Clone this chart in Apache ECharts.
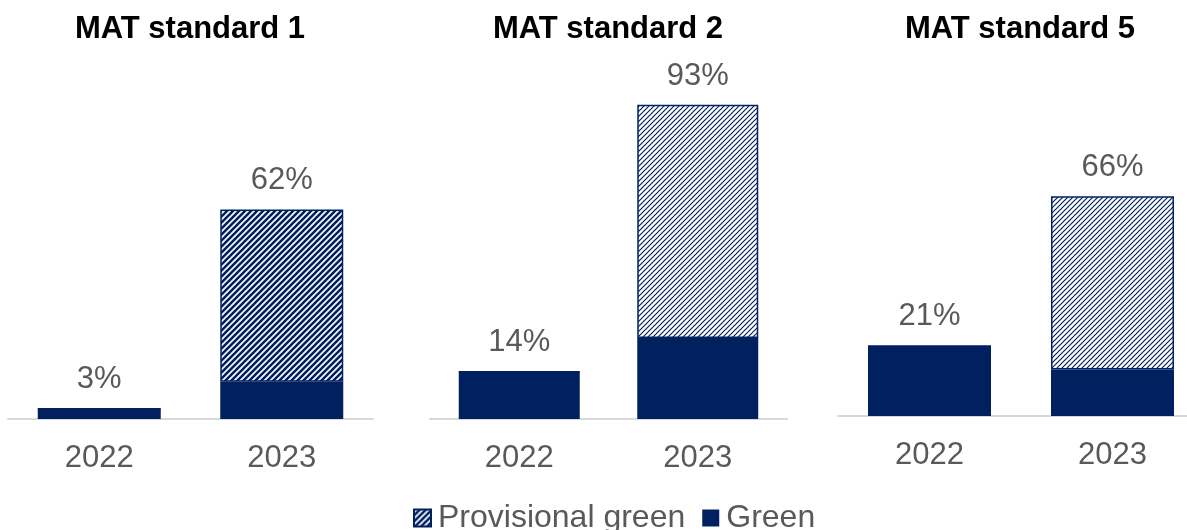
<!DOCTYPE html>
<html>
<head>
<meta charset="utf-8">
<script src="https://cdn.jsdelivr.net/npm/echarts@6/dist/echarts.min.js"></script>
<style>
html,body{margin:0;padding:0;background:#fff;}
#c{width:1187px;height:530px;}
</style>
</head>
<body>
<div id="c"></div>
<script>
// ---- data ----
var categories = ['2022', '2023'];
var panelTitles = ['MAT standard 1', 'MAT standard 2', 'MAT standard 5'];
var greenValues = [[3, 11], [14, 24], [21, 14]];
var provisionalValues = [[0, 51], [0, 69], [0, 52]];
var seriesNames = ['Provisional green', 'Green'];

// ---- styles ----
var NAVY = '#002060';
var GREY = '#595959';
var FONT = 'Liberation Sans, Arial, sans-serif';

function makeHatch(size, lw) {
  var c = document.createElement('canvas');
  c.width = size; c.height = size;
  var ctx = c.getContext('2d');
  ctx.fillStyle = '#ffffff';
  ctx.fillRect(0, 0, size, size);
  ctx.strokeStyle = NAVY;
  ctx.lineWidth = lw;
  ctx.beginPath();
  ctx.moveTo(-1, size + 1); ctx.lineTo(size + 1, -1);
  ctx.moveTo(-1, 1); ctx.lineTo(1, -1);
  ctx.moveTo(size - 1, size + 1); ctx.lineTo(size + 1, size - 1);
  ctx.stroke();
  return c;
}
var hatches = [makeHatch(6, 2.6), makeHatch(5, 1.2), makeHatch(5, 1.2)];

var grids = [
  {left: 8, width: 365, top: 81, height: 338, outerBoundsMode: 'none'},
  {left: 430, width: 357, top: 81, height: 338, outerBoundsMode: 'none'},
  {left: 838, width: 366, top: 83, height: 333, outerBoundsMode: 'none'}
];
var barWidths = [123, 121, 123];
var titleCenters = [190, 608, 1020];

var option = {
  animation: false,
  textStyle: {fontFamily: FONT},
  title: panelTitles.map(function (t, i) {
    return {
      text: t, left: titleCenters[i], top: 14, textAlign: 'center', padding: 0,
      textStyle: {fontFamily: FONT, fontWeight: 'bold', fontSize: 31, color: '#000'}
    };
  }),
  legend: {
    top: 502, left: 413, padding: 0,
    data: seriesNames,
    icon: 'rect',
    itemWidth: 17, itemHeight: 17, itemGap: 17,
    textStyle: {fontFamily: FONT, fontSize: 32, color: GREY, padding: [0, 0, 0, 2]}
  },
  grid: grids,
  xAxis: grids.map(function (g, i) {
    return {
      type: 'category', gridIndex: i, data: categories,
      axisLine: {lineStyle: {color: '#d9d9d9', width: 2}},
      axisTick: {show: false},
      axisLabel: {color: GREY, fontSize: 31, margin: 24, fontFamily: FONT}
    };
  }),
  yAxis: grids.map(function (g, i) {
    return {type: 'value', gridIndex: i, min: 0, max: 100, show: false, splitLine: {show: false}};
  }),
  series: []
};

for (var i = 0; i < 3; i++) {
  (function (i) {
    option.series.push({
      name: 'Green', type: 'bar', stack: 's' + i,
      xAxisIndex: i, yAxisIndex: i,
      barWidth: barWidths[i],
      data: greenValues[i],
      itemStyle: {color: NAVY}
    });
    option.series.push({
      name: 'Provisional green', type: 'bar', stack: 's' + i,
      xAxisIndex: i, yAxisIndex: i,
      barWidth: barWidths[i],
      data: provisionalValues[i],
      itemStyle: {color: {image: hatches[i], repeat: 'repeat'}, borderColor: NAVY, borderWidth: 1.5},
      label: {
        show: true, position: 'top', distance: 13,
        color: GREY, fontSize: 31, fontFamily: FONT,
        formatter: function (p) {
          return (greenValues[i][p.dataIndex] + provisionalValues[i][p.dataIndex]) + '%';
        }
      }
    });
  })(i);
}

var chart = echarts.init(document.getElementById('c'), null, {renderer: 'canvas'});
chart.setOption(option);
</script>
</body>
</html>
